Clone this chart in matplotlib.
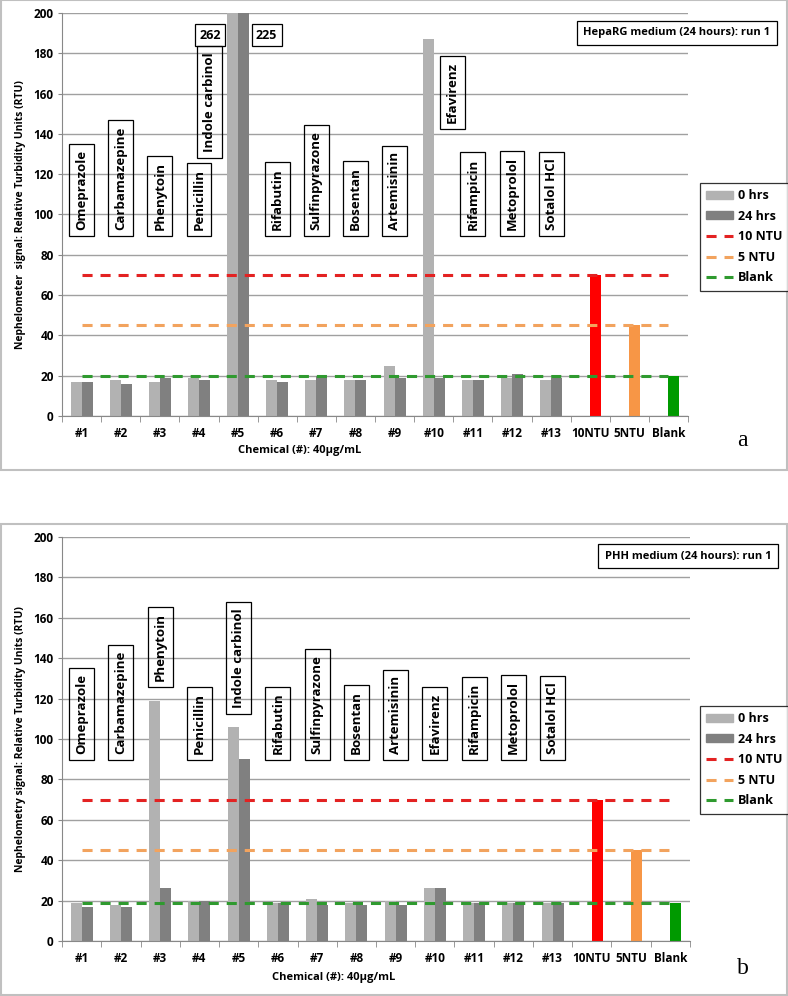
import matplotlib.pyplot as plt
from matplotlib.patches import Patch, Rectangle
from matplotlib.lines import Line2D
import numpy as np

plt.rcParams['font.family'] = ['Open Sans', 'DejaVu Sans']
plt.rcParams['font.weight'] = 'bold'

# categories
cats = ['#1', '#2', '#3', '#4', '#5', '#6', '#7', '#8', '#9', '#10', '#11', '#12', '#13',
        '10NTU', '5NTU', 'Blank']
chemicals = ['Omeprazole', 'Carbamazepine', 'Phenytoin', 'Penicillin', 'Indole carbinol',
             'Rifabutin', 'Sulfinpyrazone', 'Bosentan', 'Artemisinin', 'Efavirenz',
             'Rifampicin', 'Metoprolol', 'Sotalol HCl']

# panel a: HepaRG medium
a_0h = [17, 18, 17, 19, 262, 18, 18, 18, 25, 187, 18, 19, 18]
a_24h = [17, 16, 19, 18, 225, 17, 20, 18, 19, 19, 18, 21, 19]
a_std = [70, 45, 20]          # 10NTU, 5NTU, Blank bars
a_levels = [70, 45, 20]       # dashed reference lines
# label box position (x offset from category, bottom value)
a_lab_dx = [0, 0, 0, 0, -0.72, 0, 0, 0, 0, 0.47, 0, 0, 0]
a_lab_y = [89, 89, 89, 89, 127.5, 89, 89, 89, 89, 142, 89, 89, 89]
a_off_text = ['262', '225']
a_off_dx = [-0.72, 0.73]

# panel b: PHH medium
b_0h = [19, 18, 119, 20, 106, 19, 21, 19, 20, 26, 19, 19, 19]
b_24h = [17, 17, 26, 20, 90, 19, 18, 18, 18, 26, 19, 19, 19]
b_std = [70, 45, 19]
b_levels = [70, 45, 19]
b_lab_dx = [0] * 13
b_lab_y = [89, 89, 125, 89, 112, 89, 89, 89, 89, 89, 89, 89, 89]

light = '#b2b2b2'
dark = '#808080'
bar_cols = ['#ff0000', '#f79646', '#009a00']
line_cols = ['#e32222', '#f2a35e', '#2f9a2f']

fig = plt.figure(figsize=(7.88, 9.96), dpi=100)
W, H = 788, 996


def fx(px):
    return px / W


def fy(py):
    return 1 - py / H


def draw_panel(ax, v0, v24, std, levels, lab_dx, lab_y, ylabel, title, tb, lg_top, letter_xy, xlab_x, xlab_y):
    x = np.arange(len(cats))
    w = 0.28
    xi = x[:13]
    ax.bar(xi - w / 2, v0, w, color=light, zorder=2)
    ax.bar(xi + w / 2, v24, w, color=dark, zorder=2)
    ax.bar(x[13:] + w / 2, std, w, color=bar_cols, zorder=2)
    for lev, c in zip(levels, line_cols):
        ax.hlines(lev, x[0], x[-1], colors=c, lw=2.2, linestyles=(0, (3.3, 2.6)), zorder=3)

    for name, dx, yb, xx in zip(chemicals, lab_dx, lab_y, xi):
        ax.text(xx + dx, yb + 3.5, name, rotation=90, ha='center', va='bottom', fontsize=9.5,
                fontweight='bold', zorder=4,
                bbox=dict(boxstyle='square,pad=0.45', fc='none', ec='black', lw=0.9))

    ax.set_xlim(-0.5, 15.5)
    ax.set_ylim(0, 200)
    ax.set_yticks(range(0, 201, 20))
    ax.set_xticks(x)
    ax.set_xticklabels(cats, fontsize=8.5, fontweight='bold')
    ax.set_xticks(np.arange(-0.5, 16, 1), minor=True)
    ax.tick_params(axis='x', which='major', length=0, pad=8)
    ax.tick_params(axis='x', which='minor', length=4, color='#888888')
    ax.tick_params(axis='y', length=3, color='#888888', labelsize=8.5, pad=3)
    for t in ax.get_yticklabels():
        t.set_fontweight('bold')
    ax.grid(axis='y', color='#a0a0a0', lw=1, zorder=0)
    for s in ['top', 'right']:
        ax.spines[s].set_visible(False)
    ax.spines['left'].set_color('#888888')
    ax.spines['bottom'].set_color('#888888')
    ax.set_ylabel(ylabel, fontsize=7.5, fontweight='bold')
    ax.yaxis.set_label_coords(-0.058, 0.5)

    fig.text(xlab_x, xlab_y, 'Chemical (#): 40\u00b5g/mL', ha='center', va='center',
             fontsize=8, fontweight='bold')
    fig.text(tb[0], tb[1], title, ha='center', va='center', fontsize=8, fontweight='bold',
             bbox=dict(boxstyle='square,pad=0.6', fc='white', ec='black', lw=0.9))

    handles = [Patch(color=light, label='0 hrs'), Patch(color=dark, label='24 hrs'),
               Line2D([], [], color=line_cols[0], lw=2.2, ls=(0, (3.3, 2.6)), label='10 NTU'),
               Line2D([], [], color=line_cols[1], lw=2.2, ls=(0, (3.3, 2.6)), label='5 NTU'),
               Line2D([], [], color=line_cols[2], lw=2.2, ls=(0, (3.3, 2.6)), label='Blank')]
    leg = fig.legend(handles=handles, loc='upper left', bbox_to_anchor=(fx(700), fy(lg_top)),
                     fontsize=9, frameon=True, fancybox=False, edgecolor='black',
                     handlelength=2.1, handleheight=0.6, labelspacing=0.6, borderpad=0.5,
                     handletextpad=0.4, borderaxespad=0)
    leg.get_frame().set_linewidth(0.9)
    for t in leg.get_texts():
        t.set_fontweight('bold')

    fig.text(letter_xy[0], letter_xy[1], letter_xy[2], ha='center', va='center', fontsize=17,
             family='Liberation Serif', fontweight='normal')


# panel borders
fig.add_artist(Rectangle((fx(1), fy(470)), fx(786), 470 / H, transform=fig.transFigure,
                         fill=False, ec='#c0c0c0', lw=1.5))
fig.add_artist(Rectangle((fx(1), fy(995)), fx(786), 471 / H, transform=fig.transFigure,
                         fill=False, ec='#c0c0c0', lw=1.5))

ax1 = fig.add_axes([fx(62), fy(416), fx(626), 403 / H])
draw_panel(ax1, a_0h, a_24h, a_std, a_levels, a_lab_dx, a_lab_y,
           'Nephelometer  signal: Relative Turbidity Units (RTU)',
           'HepaRG medium (24 hours): run 1', (fx(677), fy(33)), 183,
           (fx(742), fy(440), 'a'), fx(300), fy(450))
# off-scale values for #5
for txt, dx in zip(a_off_text, a_off_dx):
    ax1.text(4 + dx, 189, txt, ha='center', va='center', fontsize=9, fontweight='bold',
             bbox=dict(boxstyle='square,pad=0.35', fc='white', ec='black', lw=0.9))

ax2 = fig.add_axes([fx(62), fy(941), fx(628), 404 / H])
draw_panel(ax2, b_0h, b_24h, b_std, b_levels, b_lab_dx, b_lab_y,
           'Nephelometry signal: Relative Turbidity Units (RTU)',
           'PHH medium (24 hours): run 1', (fx(688), fy(556)), 706,
           (fx(743), fy(968), 'b'), fx(334), fy(977))

fig.savefig('out.png', dpi=100)
